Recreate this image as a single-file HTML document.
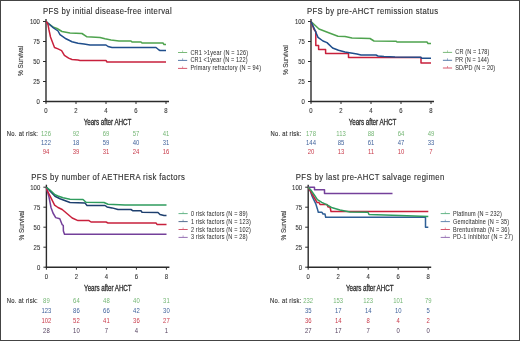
<!DOCTYPE html>
<html><head><meta charset="utf-8"><style>
html,body{margin:0;padding:0;background:#fff;}
svg{display:block;font-family:"Liberation Sans", sans-serif;will-change:transform;}
text{stroke:currentColor;}
</style></head><body>
<svg width="520" height="341" viewBox="0 0 520 341">
<rect x="0" y="0" width="520" height="341" fill="#fff"/>
<text transform="translate(43.00,14.00) scale(0.93,1)" font-size="8.3" fill="#2e2e2e" color="#2e2e2e" text-anchor="start" textLength="138.39" lengthAdjust="spacing" stroke-width="0.12">PFS by initial disease-free interval</text>
<line x1="46.00" y1="19.00" x2="46.00" y2="102.20" stroke="#2b2b2b" stroke-width="1.4"/>
<line x1="45.30" y1="101.50" x2="169.00" y2="101.50" stroke="#2b2b2b" stroke-width="1.4"/>
<line x1="43.00" y1="101.50" x2="46.00" y2="101.50" stroke="#2b2b2b" stroke-width="1.0"/>
<text transform="translate(39.80,104.40) scale(0.86,1)" font-size="6.9" fill="#3a3a3a" color="#3a3a3a" text-anchor="end" stroke-width="0.12">0</text>
<line x1="43.00" y1="81.50" x2="46.00" y2="81.50" stroke="#2b2b2b" stroke-width="1.0"/>
<text transform="translate(39.80,84.40) scale(0.86,1)" font-size="6.9" fill="#3a3a3a" color="#3a3a3a" text-anchor="end" stroke-width="0.12">25</text>
<line x1="43.00" y1="61.50" x2="46.00" y2="61.50" stroke="#2b2b2b" stroke-width="1.0"/>
<text transform="translate(39.80,64.40) scale(0.86,1)" font-size="6.9" fill="#3a3a3a" color="#3a3a3a" text-anchor="end" stroke-width="0.12">50</text>
<line x1="43.00" y1="41.50" x2="46.00" y2="41.50" stroke="#2b2b2b" stroke-width="1.0"/>
<text transform="translate(39.80,44.40) scale(0.86,1)" font-size="6.9" fill="#3a3a3a" color="#3a3a3a" text-anchor="end" stroke-width="0.12">75</text>
<line x1="43.00" y1="21.50" x2="46.00" y2="21.50" stroke="#2b2b2b" stroke-width="1.0"/>
<text transform="translate(39.80,24.40) scale(0.86,1)" font-size="6.9" fill="#3a3a3a" color="#3a3a3a" text-anchor="end" stroke-width="0.12">100</text>
<line x1="46.00" y1="101.50" x2="46.00" y2="104.00" stroke="#2b2b2b" stroke-width="1.0"/>
<text transform="translate(46.00,113.40) scale(0.86,1)" font-size="6.9" fill="#3a3a3a" color="#3a3a3a" text-anchor="middle" stroke-width="0.12">0</text>
<line x1="76.00" y1="101.50" x2="76.00" y2="104.00" stroke="#2b2b2b" stroke-width="1.0"/>
<text transform="translate(76.00,113.40) scale(0.86,1)" font-size="6.9" fill="#3a3a3a" color="#3a3a3a" text-anchor="middle" stroke-width="0.12">2</text>
<line x1="106.00" y1="101.50" x2="106.00" y2="104.00" stroke="#2b2b2b" stroke-width="1.0"/>
<text transform="translate(106.00,113.40) scale(0.86,1)" font-size="6.9" fill="#3a3a3a" color="#3a3a3a" text-anchor="middle" stroke-width="0.12">4</text>
<line x1="136.00" y1="101.50" x2="136.00" y2="104.00" stroke="#2b2b2b" stroke-width="1.0"/>
<text transform="translate(136.00,113.40) scale(0.86,1)" font-size="6.9" fill="#3a3a3a" color="#3a3a3a" text-anchor="middle" stroke-width="0.12">6</text>
<line x1="166.00" y1="101.50" x2="166.00" y2="104.00" stroke="#2b2b2b" stroke-width="1.0"/>
<text transform="translate(166.00,113.40) scale(0.86,1)" font-size="6.9" fill="#3a3a3a" color="#3a3a3a" text-anchor="middle" stroke-width="0.12">8</text>
<text transform="translate(107.50,125.30) scale(0.75,1)" font-size="8.4" fill="#2e2e2e" color="#2e2e2e" text-anchor="middle" textLength="63.47" lengthAdjust="spacing" stroke-width="0.3">Years after AHCT</text>
<text transform="translate(22.5,60.9) rotate(-90)" font-size="8.1" fill="#3a3a3a" color="#3a3a3a" stroke-width="0.15" text-anchor="middle" textLength="30.0" lengthAdjust="spacingAndGlyphs">% Survival</text>
<g opacity="0.75">
<line x1="178.00" y1="52.50" x2="187.20" y2="52.50" stroke="#4ea34e" stroke-width="1.0"/>
<line x1="182.60" y1="50.50" x2="182.60" y2="52.50" stroke="#4ea34e" stroke-width="0.6"/>
</g>
<text transform="translate(190.40,54.50) scale(0.88,1)" font-size="6.3" fill="#333" color="#333" text-anchor="start" textLength="65.45" lengthAdjust="spacing" stroke-width="0.04">CR1 &gt;1year (N = 126)</text>
<g opacity="0.75">
<line x1="178.00" y1="60.40" x2="187.20" y2="60.40" stroke="#1f4e8c" stroke-width="1.0"/>
<line x1="182.60" y1="58.40" x2="182.60" y2="60.40" stroke="#1f4e8c" stroke-width="0.6"/>
</g>
<text transform="translate(190.40,62.40) scale(0.88,1)" font-size="6.3" fill="#333" color="#333" text-anchor="start" textLength="64.89" lengthAdjust="spacing" stroke-width="0.04">CR1 &lt;1year (N = 122)</text>
<g opacity="0.75">
<line x1="178.00" y1="68.40" x2="187.20" y2="68.40" stroke="#c8203c" stroke-width="1.0"/>
<line x1="182.60" y1="66.40" x2="182.60" y2="68.40" stroke="#c8203c" stroke-width="0.6"/>
</g>
<text transform="translate(190.40,70.40) scale(0.88,1)" font-size="6.3" fill="#333" color="#333" text-anchor="start" textLength="80.23" lengthAdjust="spacing" stroke-width="0.04">Primary refractory (N = 94)</text>
<text transform="translate(6.80,135.60) scale(0.9,1)" font-size="6.5" fill="#2e2e2e" color="#2e2e2e" text-anchor="start" textLength="34.67" lengthAdjust="spacing" stroke-width="0.12">No. at risk:</text>
<text transform="translate(46.00,135.90) scale(0.9,1)" font-size="6.6" fill="#74b674" color="#74b674" text-anchor="middle" stroke-width="0.0">126</text>
<text transform="translate(76.00,135.90) scale(0.9,1)" font-size="6.6" fill="#74b674" color="#74b674" text-anchor="middle" stroke-width="0.0">92</text>
<text transform="translate(106.00,135.90) scale(0.9,1)" font-size="6.6" fill="#74b674" color="#74b674" text-anchor="middle" stroke-width="0.0">69</text>
<text transform="translate(136.00,135.90) scale(0.9,1)" font-size="6.6" fill="#74b674" color="#74b674" text-anchor="middle" stroke-width="0.0">57</text>
<text transform="translate(166.00,135.90) scale(0.9,1)" font-size="6.6" fill="#74b674" color="#74b674" text-anchor="middle" stroke-width="0.0">41</text>
<text transform="translate(46.00,145.10) scale(0.9,1)" font-size="6.6" fill="#41639c" color="#41639c" text-anchor="middle" stroke-width="0.0">122</text>
<text transform="translate(76.00,145.10) scale(0.9,1)" font-size="6.6" fill="#41639c" color="#41639c" text-anchor="middle" stroke-width="0.0">18</text>
<text transform="translate(106.00,145.10) scale(0.9,1)" font-size="6.6" fill="#41639c" color="#41639c" text-anchor="middle" stroke-width="0.0">59</text>
<text transform="translate(136.00,145.10) scale(0.9,1)" font-size="6.6" fill="#41639c" color="#41639c" text-anchor="middle" stroke-width="0.0">40</text>
<text transform="translate(166.00,145.10) scale(0.9,1)" font-size="6.6" fill="#41639c" color="#41639c" text-anchor="middle" stroke-width="0.0">31</text>
<text transform="translate(46.00,154.30) scale(0.9,1)" font-size="6.6" fill="#c83a4a" color="#c83a4a" text-anchor="middle" stroke-width="0.0">94</text>
<text transform="translate(76.00,154.30) scale(0.9,1)" font-size="6.6" fill="#c83a4a" color="#c83a4a" text-anchor="middle" stroke-width="0.0">39</text>
<text transform="translate(106.00,154.30) scale(0.9,1)" font-size="6.6" fill="#c83a4a" color="#c83a4a" text-anchor="middle" stroke-width="0.0">31</text>
<text transform="translate(136.00,154.30) scale(0.9,1)" font-size="6.6" fill="#c83a4a" color="#c83a4a" text-anchor="middle" stroke-width="0.0">24</text>
<text transform="translate(166.00,154.30) scale(0.9,1)" font-size="6.6" fill="#c83a4a" color="#c83a4a" text-anchor="middle" stroke-width="0.0">16</text>
<text transform="translate(307.00,14.00) scale(0.93,1)" font-size="8.3" fill="#2e2e2e" color="#2e2e2e" text-anchor="start" textLength="140.97" lengthAdjust="spacing" stroke-width="0.12">PFS by pre-AHCT remission status</text>
<line x1="311.00" y1="19.00" x2="311.00" y2="102.20" stroke="#2b2b2b" stroke-width="1.4"/>
<line x1="310.30" y1="101.50" x2="434.00" y2="101.50" stroke="#2b2b2b" stroke-width="1.4"/>
<line x1="308.00" y1="101.50" x2="311.00" y2="101.50" stroke="#2b2b2b" stroke-width="1.0"/>
<text transform="translate(304.80,104.40) scale(0.86,1)" font-size="6.9" fill="#3a3a3a" color="#3a3a3a" text-anchor="end" stroke-width="0.12">0</text>
<line x1="308.00" y1="81.50" x2="311.00" y2="81.50" stroke="#2b2b2b" stroke-width="1.0"/>
<text transform="translate(304.80,84.40) scale(0.86,1)" font-size="6.9" fill="#3a3a3a" color="#3a3a3a" text-anchor="end" stroke-width="0.12">25</text>
<line x1="308.00" y1="61.50" x2="311.00" y2="61.50" stroke="#2b2b2b" stroke-width="1.0"/>
<text transform="translate(304.80,64.40) scale(0.86,1)" font-size="6.9" fill="#3a3a3a" color="#3a3a3a" text-anchor="end" stroke-width="0.12">50</text>
<line x1="308.00" y1="41.50" x2="311.00" y2="41.50" stroke="#2b2b2b" stroke-width="1.0"/>
<text transform="translate(304.80,44.40) scale(0.86,1)" font-size="6.9" fill="#3a3a3a" color="#3a3a3a" text-anchor="end" stroke-width="0.12">75</text>
<line x1="308.00" y1="21.50" x2="311.00" y2="21.50" stroke="#2b2b2b" stroke-width="1.0"/>
<text transform="translate(304.80,24.40) scale(0.86,1)" font-size="6.9" fill="#3a3a3a" color="#3a3a3a" text-anchor="end" stroke-width="0.12">100</text>
<line x1="311.00" y1="101.50" x2="311.00" y2="104.00" stroke="#2b2b2b" stroke-width="1.0"/>
<text transform="translate(311.00,113.40) scale(0.86,1)" font-size="6.9" fill="#3a3a3a" color="#3a3a3a" text-anchor="middle" stroke-width="0.12">0</text>
<line x1="341.00" y1="101.50" x2="341.00" y2="104.00" stroke="#2b2b2b" stroke-width="1.0"/>
<text transform="translate(341.00,113.40) scale(0.86,1)" font-size="6.9" fill="#3a3a3a" color="#3a3a3a" text-anchor="middle" stroke-width="0.12">2</text>
<line x1="371.00" y1="101.50" x2="371.00" y2="104.00" stroke="#2b2b2b" stroke-width="1.0"/>
<text transform="translate(371.00,113.40) scale(0.86,1)" font-size="6.9" fill="#3a3a3a" color="#3a3a3a" text-anchor="middle" stroke-width="0.12">4</text>
<line x1="401.00" y1="101.50" x2="401.00" y2="104.00" stroke="#2b2b2b" stroke-width="1.0"/>
<text transform="translate(401.00,113.40) scale(0.86,1)" font-size="6.9" fill="#3a3a3a" color="#3a3a3a" text-anchor="middle" stroke-width="0.12">6</text>
<line x1="431.00" y1="101.50" x2="431.00" y2="104.00" stroke="#2b2b2b" stroke-width="1.0"/>
<text transform="translate(431.00,113.40) scale(0.86,1)" font-size="6.9" fill="#3a3a3a" color="#3a3a3a" text-anchor="middle" stroke-width="0.12">8</text>
<text transform="translate(372.50,125.30) scale(0.75,1)" font-size="8.4" fill="#2e2e2e" color="#2e2e2e" text-anchor="middle" textLength="63.47" lengthAdjust="spacing" stroke-width="0.3">Years after AHCT</text>
<text transform="translate(287.5,60.1) rotate(-90)" font-size="8.1" fill="#3a3a3a" color="#3a3a3a" stroke-width="0.15" text-anchor="middle" textLength="30.0" lengthAdjust="spacingAndGlyphs">% Survival</text>
<g opacity="0.75">
<line x1="442.90" y1="52.40" x2="452.10" y2="52.40" stroke="#4ea34e" stroke-width="1.0"/>
<line x1="447.50" y1="50.40" x2="447.50" y2="52.40" stroke="#4ea34e" stroke-width="0.6"/>
</g>
<text transform="translate(455.30,54.40) scale(0.88,1)" font-size="6.3" fill="#333" color="#333" text-anchor="start" textLength="38.75" lengthAdjust="spacing" stroke-width="0.04">CR (N = 178)</text>
<g opacity="0.75">
<line x1="442.90" y1="60.30" x2="452.10" y2="60.30" stroke="#1f4e8c" stroke-width="1.0"/>
<line x1="447.50" y1="58.30" x2="447.50" y2="60.30" stroke="#1f4e8c" stroke-width="0.6"/>
</g>
<text transform="translate(455.30,62.30) scale(0.88,1)" font-size="6.3" fill="#333" color="#333" text-anchor="start" textLength="38.18" lengthAdjust="spacing" stroke-width="0.04">PR (N = 144)</text>
<g opacity="0.75">
<line x1="442.90" y1="68.00" x2="452.10" y2="68.00" stroke="#c8203c" stroke-width="1.0"/>
<line x1="447.50" y1="66.00" x2="447.50" y2="68.00" stroke="#c8203c" stroke-width="0.6"/>
</g>
<text transform="translate(455.30,70.00) scale(0.88,1)" font-size="6.3" fill="#333" color="#333" text-anchor="start" textLength="45.34" lengthAdjust="spacing" stroke-width="0.04">SD/PD (N = 20)</text>
<text transform="translate(270.60,135.60) scale(0.9,1)" font-size="6.5" fill="#2e2e2e" color="#2e2e2e" text-anchor="start" textLength="34.11" lengthAdjust="spacing" stroke-width="0.12">No. at risk:</text>
<text transform="translate(311.00,135.90) scale(0.9,1)" font-size="6.6" fill="#74b674" color="#74b674" text-anchor="middle" stroke-width="0.0">178</text>
<text transform="translate(341.00,135.90) scale(0.9,1)" font-size="6.6" fill="#74b674" color="#74b674" text-anchor="middle" stroke-width="0.0">113</text>
<text transform="translate(371.00,135.90) scale(0.9,1)" font-size="6.6" fill="#74b674" color="#74b674" text-anchor="middle" stroke-width="0.0">88</text>
<text transform="translate(401.00,135.90) scale(0.9,1)" font-size="6.6" fill="#74b674" color="#74b674" text-anchor="middle" stroke-width="0.0">64</text>
<text transform="translate(431.00,135.90) scale(0.9,1)" font-size="6.6" fill="#74b674" color="#74b674" text-anchor="middle" stroke-width="0.0">49</text>
<text transform="translate(311.00,145.15) scale(0.9,1)" font-size="6.6" fill="#41639c" color="#41639c" text-anchor="middle" stroke-width="0.0">144</text>
<text transform="translate(341.00,145.15) scale(0.9,1)" font-size="6.6" fill="#41639c" color="#41639c" text-anchor="middle" stroke-width="0.0">85</text>
<text transform="translate(371.00,145.15) scale(0.9,1)" font-size="6.6" fill="#41639c" color="#41639c" text-anchor="middle" stroke-width="0.0">61</text>
<text transform="translate(401.00,145.15) scale(0.9,1)" font-size="6.6" fill="#41639c" color="#41639c" text-anchor="middle" stroke-width="0.0">47</text>
<text transform="translate(431.00,145.15) scale(0.9,1)" font-size="6.6" fill="#41639c" color="#41639c" text-anchor="middle" stroke-width="0.0">33</text>
<text transform="translate(311.00,154.40) scale(0.9,1)" font-size="6.6" fill="#c83a4a" color="#c83a4a" text-anchor="middle" stroke-width="0.0">20</text>
<text transform="translate(341.00,154.40) scale(0.9,1)" font-size="6.6" fill="#c83a4a" color="#c83a4a" text-anchor="middle" stroke-width="0.0">13</text>
<text transform="translate(371.00,154.40) scale(0.9,1)" font-size="6.6" fill="#c83a4a" color="#c83a4a" text-anchor="middle" stroke-width="0.0">11</text>
<text transform="translate(401.00,154.40) scale(0.9,1)" font-size="6.6" fill="#c83a4a" color="#c83a4a" text-anchor="middle" stroke-width="0.0">10</text>
<text transform="translate(431.00,154.40) scale(0.9,1)" font-size="6.6" fill="#c83a4a" color="#c83a4a" text-anchor="middle" stroke-width="0.0">7</text>
<text transform="translate(31.25,179.70) scale(0.93,1)" font-size="8.3" fill="#2e2e2e" color="#2e2e2e" text-anchor="start" textLength="165.05" lengthAdjust="spacing" stroke-width="0.12">PFS by number of AETHERA risk factors</text>
<line x1="46.40" y1="184.70" x2="46.40" y2="267.90" stroke="#2b2b2b" stroke-width="1.4"/>
<line x1="45.70" y1="267.20" x2="169.40" y2="267.20" stroke="#2b2b2b" stroke-width="1.4"/>
<line x1="43.40" y1="267.20" x2="46.40" y2="267.20" stroke="#2b2b2b" stroke-width="1.0"/>
<text transform="translate(40.20,270.10) scale(0.86,1)" font-size="6.9" fill="#3a3a3a" color="#3a3a3a" text-anchor="end" stroke-width="0.12">0</text>
<line x1="43.40" y1="247.20" x2="46.40" y2="247.20" stroke="#2b2b2b" stroke-width="1.0"/>
<text transform="translate(40.20,250.10) scale(0.86,1)" font-size="6.9" fill="#3a3a3a" color="#3a3a3a" text-anchor="end" stroke-width="0.12">25</text>
<line x1="43.40" y1="227.20" x2="46.40" y2="227.20" stroke="#2b2b2b" stroke-width="1.0"/>
<text transform="translate(40.20,230.10) scale(0.86,1)" font-size="6.9" fill="#3a3a3a" color="#3a3a3a" text-anchor="end" stroke-width="0.12">50</text>
<line x1="43.40" y1="207.20" x2="46.40" y2="207.20" stroke="#2b2b2b" stroke-width="1.0"/>
<text transform="translate(40.20,210.10) scale(0.86,1)" font-size="6.9" fill="#3a3a3a" color="#3a3a3a" text-anchor="end" stroke-width="0.12">75</text>
<line x1="43.40" y1="187.20" x2="46.40" y2="187.20" stroke="#2b2b2b" stroke-width="1.0"/>
<text transform="translate(40.20,190.10) scale(0.86,1)" font-size="6.9" fill="#3a3a3a" color="#3a3a3a" text-anchor="end" stroke-width="0.12">100</text>
<line x1="46.40" y1="267.20" x2="46.40" y2="269.70" stroke="#2b2b2b" stroke-width="1.0"/>
<text transform="translate(46.40,279.10) scale(0.86,1)" font-size="6.9" fill="#3a3a3a" color="#3a3a3a" text-anchor="middle" stroke-width="0.12">0</text>
<line x1="76.40" y1="267.20" x2="76.40" y2="269.70" stroke="#2b2b2b" stroke-width="1.0"/>
<text transform="translate(76.40,279.10) scale(0.86,1)" font-size="6.9" fill="#3a3a3a" color="#3a3a3a" text-anchor="middle" stroke-width="0.12">2</text>
<line x1="106.40" y1="267.20" x2="106.40" y2="269.70" stroke="#2b2b2b" stroke-width="1.0"/>
<text transform="translate(106.40,279.10) scale(0.86,1)" font-size="6.9" fill="#3a3a3a" color="#3a3a3a" text-anchor="middle" stroke-width="0.12">4</text>
<line x1="136.40" y1="267.20" x2="136.40" y2="269.70" stroke="#2b2b2b" stroke-width="1.0"/>
<text transform="translate(136.40,279.10) scale(0.86,1)" font-size="6.9" fill="#3a3a3a" color="#3a3a3a" text-anchor="middle" stroke-width="0.12">6</text>
<line x1="166.40" y1="267.20" x2="166.40" y2="269.70" stroke="#2b2b2b" stroke-width="1.0"/>
<text transform="translate(166.40,279.10) scale(0.86,1)" font-size="6.9" fill="#3a3a3a" color="#3a3a3a" text-anchor="middle" stroke-width="0.12">8</text>
<text transform="translate(107.90,291.00) scale(0.75,1)" font-size="8.4" fill="#2e2e2e" color="#2e2e2e" text-anchor="middle" textLength="63.47" lengthAdjust="spacing" stroke-width="0.3">Years after AHCT</text>
<text transform="translate(23.5,225.5) rotate(-90)" font-size="8.1" fill="#3a3a3a" color="#3a3a3a" stroke-width="0.15" text-anchor="middle" textLength="30.0" lengthAdjust="spacingAndGlyphs">% Survival</text>
<g opacity="0.75">
<line x1="178.50" y1="213.60" x2="187.70" y2="213.60" stroke="#2f9c5e" stroke-width="1.0"/>
<line x1="183.10" y1="211.60" x2="183.10" y2="213.60" stroke="#2f9c5e" stroke-width="0.6"/>
</g>
<text transform="translate(190.90,215.60) scale(0.88,1)" font-size="6.3" fill="#333" color="#333" text-anchor="start" textLength="64.43" lengthAdjust="spacing" stroke-width="0.04">0 risk factors (N = 89)</text>
<g opacity="0.75">
<line x1="178.50" y1="221.60" x2="187.70" y2="221.60" stroke="#1d3f6e" stroke-width="1.0"/>
<line x1="183.10" y1="219.60" x2="183.10" y2="221.60" stroke="#1d3f6e" stroke-width="0.6"/>
</g>
<text transform="translate(190.90,223.60) scale(0.88,1)" font-size="6.3" fill="#333" color="#333" text-anchor="start" textLength="68.18" lengthAdjust="spacing" stroke-width="0.04">1 risk factors (N = 123)</text>
<g opacity="0.75">
<line x1="178.50" y1="229.50" x2="187.70" y2="229.50" stroke="#c8203c" stroke-width="1.0"/>
<line x1="183.10" y1="227.50" x2="183.10" y2="229.50" stroke="#c8203c" stroke-width="0.6"/>
</g>
<text transform="translate(190.90,231.50) scale(0.88,1)" font-size="6.3" fill="#333" color="#333" text-anchor="start" textLength="68.18" lengthAdjust="spacing" stroke-width="0.04">2 risk factors (N = 102)</text>
<g opacity="0.75">
<line x1="178.50" y1="237.40" x2="187.70" y2="237.40" stroke="#74409a" stroke-width="1.0"/>
<line x1="183.10" y1="235.40" x2="183.10" y2="237.40" stroke="#74409a" stroke-width="0.6"/>
</g>
<text transform="translate(190.90,239.40) scale(0.88,1)" font-size="6.3" fill="#333" color="#333" text-anchor="start" textLength="64.43" lengthAdjust="spacing" stroke-width="0.04">3 risk factors (N = 28)</text>
<text transform="translate(6.80,302.60) scale(0.9,1)" font-size="6.5" fill="#2e2e2e" color="#2e2e2e" text-anchor="start" textLength="34.33" lengthAdjust="spacing" stroke-width="0.12">No. at risk:</text>
<text transform="translate(46.40,302.90) scale(0.9,1)" font-size="6.6" fill="#74b674" color="#74b674" text-anchor="middle" stroke-width="0.0">89</text>
<text transform="translate(76.40,302.90) scale(0.9,1)" font-size="6.6" fill="#74b674" color="#74b674" text-anchor="middle" stroke-width="0.0">64</text>
<text transform="translate(106.40,302.90) scale(0.9,1)" font-size="6.6" fill="#74b674" color="#74b674" text-anchor="middle" stroke-width="0.0">48</text>
<text transform="translate(136.40,302.90) scale(0.9,1)" font-size="6.6" fill="#74b674" color="#74b674" text-anchor="middle" stroke-width="0.0">40</text>
<text transform="translate(166.40,302.90) scale(0.9,1)" font-size="6.6" fill="#74b674" color="#74b674" text-anchor="middle" stroke-width="0.0">31</text>
<text transform="translate(46.40,312.87) scale(0.9,1)" font-size="6.6" fill="#41639c" color="#41639c" text-anchor="middle" stroke-width="0.0">123</text>
<text transform="translate(76.40,312.87) scale(0.9,1)" font-size="6.6" fill="#41639c" color="#41639c" text-anchor="middle" stroke-width="0.0">86</text>
<text transform="translate(106.40,312.87) scale(0.9,1)" font-size="6.6" fill="#41639c" color="#41639c" text-anchor="middle" stroke-width="0.0">66</text>
<text transform="translate(136.40,312.87) scale(0.9,1)" font-size="6.6" fill="#41639c" color="#41639c" text-anchor="middle" stroke-width="0.0">42</text>
<text transform="translate(166.40,312.87) scale(0.9,1)" font-size="6.6" fill="#41639c" color="#41639c" text-anchor="middle" stroke-width="0.0">30</text>
<text transform="translate(46.40,322.84) scale(0.9,1)" font-size="6.6" fill="#c83a4a" color="#c83a4a" text-anchor="middle" stroke-width="0.0">102</text>
<text transform="translate(76.40,322.84) scale(0.9,1)" font-size="6.6" fill="#c83a4a" color="#c83a4a" text-anchor="middle" stroke-width="0.0">52</text>
<text transform="translate(106.40,322.84) scale(0.9,1)" font-size="6.6" fill="#c83a4a" color="#c83a4a" text-anchor="middle" stroke-width="0.0">41</text>
<text transform="translate(136.40,322.84) scale(0.9,1)" font-size="6.6" fill="#c83a4a" color="#c83a4a" text-anchor="middle" stroke-width="0.0">36</text>
<text transform="translate(166.40,322.84) scale(0.9,1)" font-size="6.6" fill="#c83a4a" color="#c83a4a" text-anchor="middle" stroke-width="0.0">27</text>
<text transform="translate(46.40,332.81) scale(0.9,1)" font-size="6.6" fill="#54415f" color="#54415f" text-anchor="middle" stroke-width="0.0">28</text>
<text transform="translate(76.40,332.81) scale(0.9,1)" font-size="6.6" fill="#54415f" color="#54415f" text-anchor="middle" stroke-width="0.0">10</text>
<text transform="translate(106.40,332.81) scale(0.9,1)" font-size="6.6" fill="#54415f" color="#54415f" text-anchor="middle" stroke-width="0.0">7</text>
<text transform="translate(136.40,332.81) scale(0.9,1)" font-size="6.6" fill="#54415f" color="#54415f" text-anchor="middle" stroke-width="0.0">4</text>
<text transform="translate(166.40,332.81) scale(0.9,1)" font-size="6.6" fill="#54415f" color="#54415f" text-anchor="middle" stroke-width="0.0">1</text>
<text transform="translate(295.80,179.70) scale(0.93,1)" font-size="8.3" fill="#2e2e2e" color="#2e2e2e" text-anchor="start" textLength="159.57" lengthAdjust="spacing" stroke-width="0.12">PFS by last pre-AHCT salvage regimen</text>
<line x1="308.20" y1="184.70" x2="308.20" y2="267.90" stroke="#2b2b2b" stroke-width="1.4"/>
<line x1="307.50" y1="267.20" x2="431.20" y2="267.20" stroke="#2b2b2b" stroke-width="1.4"/>
<line x1="305.20" y1="267.20" x2="308.20" y2="267.20" stroke="#2b2b2b" stroke-width="1.0"/>
<text transform="translate(302.00,270.10) scale(0.86,1)" font-size="6.9" fill="#3a3a3a" color="#3a3a3a" text-anchor="end" stroke-width="0.12">0</text>
<line x1="305.20" y1="247.20" x2="308.20" y2="247.20" stroke="#2b2b2b" stroke-width="1.0"/>
<text transform="translate(302.00,250.10) scale(0.86,1)" font-size="6.9" fill="#3a3a3a" color="#3a3a3a" text-anchor="end" stroke-width="0.12">25</text>
<line x1="305.20" y1="227.20" x2="308.20" y2="227.20" stroke="#2b2b2b" stroke-width="1.0"/>
<text transform="translate(302.00,230.10) scale(0.86,1)" font-size="6.9" fill="#3a3a3a" color="#3a3a3a" text-anchor="end" stroke-width="0.12">50</text>
<line x1="305.20" y1="207.20" x2="308.20" y2="207.20" stroke="#2b2b2b" stroke-width="1.0"/>
<text transform="translate(302.00,210.10) scale(0.86,1)" font-size="6.9" fill="#3a3a3a" color="#3a3a3a" text-anchor="end" stroke-width="0.12">75</text>
<line x1="305.20" y1="187.20" x2="308.20" y2="187.20" stroke="#2b2b2b" stroke-width="1.0"/>
<text transform="translate(302.00,190.10) scale(0.86,1)" font-size="6.9" fill="#3a3a3a" color="#3a3a3a" text-anchor="end" stroke-width="0.12">100</text>
<line x1="308.20" y1="267.20" x2="308.20" y2="269.70" stroke="#2b2b2b" stroke-width="1.0"/>
<text transform="translate(308.20,279.10) scale(0.86,1)" font-size="6.9" fill="#3a3a3a" color="#3a3a3a" text-anchor="middle" stroke-width="0.12">0</text>
<line x1="338.20" y1="267.20" x2="338.20" y2="269.70" stroke="#2b2b2b" stroke-width="1.0"/>
<text transform="translate(338.20,279.10) scale(0.86,1)" font-size="6.9" fill="#3a3a3a" color="#3a3a3a" text-anchor="middle" stroke-width="0.12">2</text>
<line x1="368.20" y1="267.20" x2="368.20" y2="269.70" stroke="#2b2b2b" stroke-width="1.0"/>
<text transform="translate(368.20,279.10) scale(0.86,1)" font-size="6.9" fill="#3a3a3a" color="#3a3a3a" text-anchor="middle" stroke-width="0.12">4</text>
<line x1="398.20" y1="267.20" x2="398.20" y2="269.70" stroke="#2b2b2b" stroke-width="1.0"/>
<text transform="translate(398.20,279.10) scale(0.86,1)" font-size="6.9" fill="#3a3a3a" color="#3a3a3a" text-anchor="middle" stroke-width="0.12">6</text>
<line x1="428.20" y1="267.20" x2="428.20" y2="269.70" stroke="#2b2b2b" stroke-width="1.0"/>
<text transform="translate(428.20,279.10) scale(0.86,1)" font-size="6.9" fill="#3a3a3a" color="#3a3a3a" text-anchor="middle" stroke-width="0.12">8</text>
<text transform="translate(369.70,291.00) scale(0.75,1)" font-size="8.4" fill="#2e2e2e" color="#2e2e2e" text-anchor="middle" textLength="63.47" lengthAdjust="spacing" stroke-width="0.3">Years after AHCT</text>
<text transform="translate(285.8,225.5) rotate(-90)" font-size="8.1" fill="#3a3a3a" color="#3a3a3a" stroke-width="0.15" text-anchor="middle" textLength="30.0" lengthAdjust="spacingAndGlyphs">% Survival</text>
<g opacity="0.75">
<line x1="440.70" y1="213.60" x2="449.90" y2="213.60" stroke="#2f9c5e" stroke-width="1.0"/>
<line x1="445.30" y1="211.60" x2="445.30" y2="213.60" stroke="#2f9c5e" stroke-width="0.6"/>
</g>
<text transform="translate(453.10,215.60) scale(0.88,1)" font-size="6.3" fill="#333" color="#333" text-anchor="start" textLength="55.34" lengthAdjust="spacing" stroke-width="0.04">Platinum (N = 232)</text>
<g opacity="0.75">
<line x1="440.70" y1="221.60" x2="449.90" y2="221.60" stroke="#2f5f96" stroke-width="1.0"/>
<line x1="445.30" y1="219.60" x2="445.30" y2="221.60" stroke="#2f5f96" stroke-width="0.6"/>
</g>
<text transform="translate(453.10,223.60) scale(0.88,1)" font-size="6.3" fill="#333" color="#333" text-anchor="start" textLength="63.75" lengthAdjust="spacing" stroke-width="0.04">Gemcitabine (N = 35)</text>
<g opacity="0.75">
<line x1="440.70" y1="229.50" x2="449.90" y2="229.50" stroke="#c8203c" stroke-width="1.0"/>
<line x1="445.30" y1="227.50" x2="445.30" y2="229.50" stroke="#c8203c" stroke-width="0.6"/>
</g>
<text transform="translate(453.10,231.50) scale(0.88,1)" font-size="6.3" fill="#333" color="#333" text-anchor="start" textLength="64.09" lengthAdjust="spacing" stroke-width="0.04">Brentuximab (N = 36)</text>
<g opacity="0.75">
<line x1="440.70" y1="237.40" x2="449.90" y2="237.40" stroke="#74409a" stroke-width="1.0"/>
<line x1="445.30" y1="235.40" x2="445.30" y2="237.40" stroke="#74409a" stroke-width="0.6"/>
</g>
<text transform="translate(453.10,239.40) scale(0.88,1)" font-size="6.3" fill="#333" color="#333" text-anchor="start" textLength="68.07" lengthAdjust="spacing" stroke-width="0.04">PD-1 inhibitor (N = 27)</text>
<text transform="translate(270.00,302.60) scale(0.9,1)" font-size="6.5" fill="#2e2e2e" color="#2e2e2e" text-anchor="start" textLength="34.78" lengthAdjust="spacing" stroke-width="0.12">No. at risk:</text>
<text transform="translate(308.20,302.90) scale(0.9,1)" font-size="6.6" fill="#74b674" color="#74b674" text-anchor="middle" stroke-width="0.0">232</text>
<text transform="translate(338.20,302.90) scale(0.9,1)" font-size="6.6" fill="#74b674" color="#74b674" text-anchor="middle" stroke-width="0.0">153</text>
<text transform="translate(368.20,302.90) scale(0.9,1)" font-size="6.6" fill="#74b674" color="#74b674" text-anchor="middle" stroke-width="0.0">123</text>
<text transform="translate(398.20,302.90) scale(0.9,1)" font-size="6.6" fill="#74b674" color="#74b674" text-anchor="middle" stroke-width="0.0">101</text>
<text transform="translate(428.20,302.90) scale(0.9,1)" font-size="6.6" fill="#74b674" color="#74b674" text-anchor="middle" stroke-width="0.0">79</text>
<text transform="translate(308.20,312.87) scale(0.9,1)" font-size="6.6" fill="#41639c" color="#41639c" text-anchor="middle" stroke-width="0.0">35</text>
<text transform="translate(338.20,312.87) scale(0.9,1)" font-size="6.6" fill="#41639c" color="#41639c" text-anchor="middle" stroke-width="0.0">17</text>
<text transform="translate(368.20,312.87) scale(0.9,1)" font-size="6.6" fill="#41639c" color="#41639c" text-anchor="middle" stroke-width="0.0">14</text>
<text transform="translate(398.20,312.87) scale(0.9,1)" font-size="6.6" fill="#41639c" color="#41639c" text-anchor="middle" stroke-width="0.0">10</text>
<text transform="translate(428.20,312.87) scale(0.9,1)" font-size="6.6" fill="#41639c" color="#41639c" text-anchor="middle" stroke-width="0.0">5</text>
<text transform="translate(308.20,322.84) scale(0.9,1)" font-size="6.6" fill="#c83a4a" color="#c83a4a" text-anchor="middle" stroke-width="0.0">36</text>
<text transform="translate(338.20,322.84) scale(0.9,1)" font-size="6.6" fill="#c83a4a" color="#c83a4a" text-anchor="middle" stroke-width="0.0">14</text>
<text transform="translate(368.20,322.84) scale(0.9,1)" font-size="6.6" fill="#c83a4a" color="#c83a4a" text-anchor="middle" stroke-width="0.0">8</text>
<text transform="translate(398.20,322.84) scale(0.9,1)" font-size="6.6" fill="#c83a4a" color="#c83a4a" text-anchor="middle" stroke-width="0.0">4</text>
<text transform="translate(428.20,322.84) scale(0.9,1)" font-size="6.6" fill="#c83a4a" color="#c83a4a" text-anchor="middle" stroke-width="0.0">2</text>
<text transform="translate(308.20,332.81) scale(0.9,1)" font-size="6.6" fill="#54415f" color="#54415f" text-anchor="middle" stroke-width="0.0">27</text>
<text transform="translate(338.20,332.81) scale(0.9,1)" font-size="6.6" fill="#54415f" color="#54415f" text-anchor="middle" stroke-width="0.0">17</text>
<text transform="translate(368.20,332.81) scale(0.9,1)" font-size="6.6" fill="#54415f" color="#54415f" text-anchor="middle" stroke-width="0.0">7</text>
<text transform="translate(398.20,332.81) scale(0.9,1)" font-size="6.6" fill="#54415f" color="#54415f" text-anchor="middle" stroke-width="0.0">0</text>
<text transform="translate(428.20,332.81) scale(0.9,1)" font-size="6.6" fill="#54415f" color="#54415f" text-anchor="middle" stroke-width="0.0">0</text>
<polyline points="46.0,21.5 53.5,27.3 57.0,28.5 62.0,31.5 70.0,33.0 82.0,33.5 87.0,36.8 100.0,37.5 105.0,38.8 111.0,40.0 119.0,41.0 131.0,41.0 132.0,42.0 141.0,42.0 142.0,43.0 163.0,43.0 164.0,44.5 166.0,44.5" fill="none" stroke="#4ea34e" stroke-width="1.5" stroke-linejoin="round"/>
<polyline points="46.0,21.5 53.5,28.0 58.0,31.0 60.0,34.7 66.0,38.8 72.0,41.7 78.0,43.2 84.0,44.0 90.0,45.0 106.0,45.0 108.0,46.5 112.0,47.5 156.0,47.5 159.0,50.0 160.0,50.5 166.0,50.5" fill="none" stroke="#1f4e8c" stroke-width="1.5" stroke-linejoin="round"/>
<polyline points="46.2,21.5 48.0,24.5 49.0,30.0 50.5,37.0 52.4,42.0 54.5,47.5 58.0,48.9 61.6,50.6 64.4,55.3 68.6,58.1 72.0,59.5 78.0,60.0 80.0,60.5 106.0,60.5 107.0,62.0 166.0,62.0" fill="none" stroke="#c8203c" stroke-width="1.5" stroke-linejoin="round"/>
<polyline points="311.0,21.5 319.0,29.0 330.0,33.2 338.0,36.2 345.0,36.5 352.0,38.0 370.0,38.5 374.0,41.0 396.0,41.2 397.0,42.0 427.0,42.0 428.0,43.5 431.0,43.5" fill="none" stroke="#4ea34e" stroke-width="1.5" stroke-linejoin="round"/>
<polyline points="311.0,21.5 312.5,25.5 314.0,29.5 315.8,31.5 315.8,45.5 318.6,45.5 318.6,49.5 325.6,49.5 325.6,53.5 348.5,53.5 348.5,57.5 421.0,57.5 421.0,63.0 431.0,63.0" fill="none" stroke="#c8203c" stroke-width="1.5" stroke-linejoin="round"/>
<polyline points="311.0,21.5 314.0,28.0 318.0,37.4 323.0,41.0 327.0,42.6 332.6,48.0 338.5,50.3 345.0,52.0 351.0,53.0 357.0,54.0 361.0,55.0 376.0,55.0 378.0,56.0 384.0,56.5 395.0,57.0 421.0,57.2 421.5,58.3 431.0,58.3" fill="none" stroke="#1f4e8c" stroke-width="1.5" stroke-linejoin="round"/>
<polyline points="46.4,187.3 47.0,190.0 49.0,197.0 51.0,207.5 53.0,213.0 55.7,217.6 59.8,218.8 62.2,224.7 63.3,225.5 63.4,231.0 64.5,234.2 166.5,234.2" fill="none" stroke="#74409a" stroke-width="1.5" stroke-linejoin="round"/>
<polyline points="46.4,187.3 47.0,190.0 50.5,196.9 54.6,205.1 58.0,207.5 62.2,209.5 67.5,214.0 72.2,218.0 78.0,220.6 89.0,220.6 91.0,222.0 106.0,222.0 108.0,223.0 156.0,223.0 157.0,224.4 166.5,224.4" fill="none" stroke="#c8203c" stroke-width="1.5" stroke-linejoin="round"/>
<polyline points="46.4,187.3 55.0,196.3 60.0,198.7 66.0,201.0 70.0,202.5 85.0,203.0 87.0,205.4 105.0,205.5 107.0,206.9 112.0,207.9 118.0,209.5 131.0,209.5 133.0,210.8 141.0,210.8 142.0,212.2 158.0,212.5 160.0,214.5 164.0,215.4 166.5,215.4" fill="none" stroke="#1d3f6e" stroke-width="1.5" stroke-linejoin="round"/>
<polyline points="46.4,187.3 50.0,190.0 55.0,194.8 58.0,196.0 63.0,197.8 70.0,199.2 83.0,199.5 86.0,202.3 104.0,202.5 108.0,204.3 125.0,205.0 166.5,205.0" fill="none" stroke="#2f9c5e" stroke-width="1.5" stroke-linejoin="round"/>
<polyline points="308.3,187.3 314.5,187.3 314.5,189.7 324.5,189.7 324.5,193.5 392.5,193.5" fill="none" stroke="#74409a" stroke-width="1.5" stroke-linejoin="round"/>
<polyline points="308.3,187.3 310.0,190.0 312.0,196.0 313.5,199.2 315.7,203.6 317.4,208.9 318.3,212.3 322.0,212.3 323.0,214.0 325.0,214.0 325.7,217.3 425.5,217.3 425.5,227.2 428.3,227.2" fill="none" stroke="#2f5f96" stroke-width="1.5" stroke-linejoin="round"/>
<polyline points="308.3,187.3 312.0,194.0 316.0,200.5 317.0,202.5 319.0,202.5 320.0,204.5 327.0,204.5 328.0,207.0 330.0,207.0 331.0,211.5 428.3,211.5" fill="none" stroke="#c8203c" stroke-width="1.5" stroke-linejoin="round"/>
<polyline points="308.3,187.3 310.8,190.0 314.8,195.7 317.4,199.6 321.8,202.3 327.1,204.9 331.5,207.5 340.0,210.0 350.0,212.1 368.0,212.3 369.0,214.5 400.0,215.5 428.3,216.4" fill="none" stroke="#2f9c5e" stroke-width="1.5" stroke-linejoin="round"/>
<rect x="0.5" y="0.5" width="519" height="340" fill="none" stroke="#444" stroke-width="1"/>
</svg>
</body></html>
